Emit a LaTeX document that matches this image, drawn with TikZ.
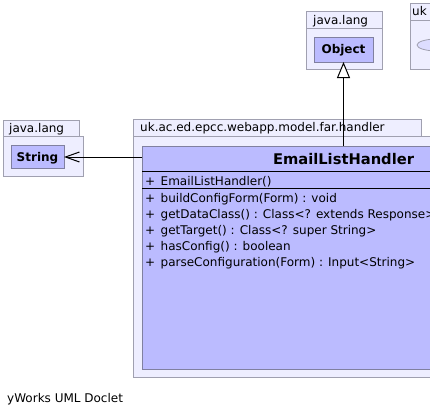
\documentclass[tikz,border=0pt]{standalone}
\usepackage{fontspec}
\setmainfont{DejaVu Sans}
\usetikzlibrary{arrows.meta}
\definecolor{pkgfill}{RGB}{238,238,255}
\definecolor{pkgline}{RGB}{160,160,176}
\definecolor{clsfill}{RGB}{187,187,255}
\definecolor{clsline}{RGB}{128,128,160}
\definecolor{ellfill}{RGB}{221,221,255}
\tikzset{
  pkg/.style={draw=pkgline, fill=pkgfill, line width=1pt},
  cls/.style={draw=clsline, fill=clsfill, line width=1pt, inner sep=0pt, outer sep=0pt},
  lbl/.style={anchor=base west, inner sep=0pt},
  sep/.style={draw=black, line width=1pt},
  inherit/.style={draw=black, line width=1pt, -{Triangle[open, length=16pt, width=13pt, fill=white]}},
  dep/.style={draw=black, line width=1pt, -{Straight Barb[length=14pt, width=10pt]}}
}
\begin{document}
\begin{tikzpicture}[x=1pt, y=-1pt, font=\fontsize{12}{14}\selectfont]
\useasboundingbox (0,0) rectangle (430,415);
\clip (0,0) rectangle (430,415);
\fill[white] (0,0) rectangle (430,415);

% java.lang (Object)
\draw[pkg] (306,28.5) rectangle (382,69);
\draw[pkg] (306,11.5) rectangle (382,28.5);
\node[lbl] (pkgobj) at (313,24) {java.lang};
\node[cls, minimum width=59pt, minimum height=25pt, text height=8.8pt, text depth=0pt] (obj) at (343.5,49.5) {\bfseries Object};

% uk (right, clipped)
\draw[pkg] (410.5,20) rectangle (470,69);
\draw[pkg] (410.5,3) rectangle (470,20);
\node[lbl] (pkguk) at (412,16) {uk};
\draw[draw=pkgline, fill=ellfill, line width=0.8pt] (437,45) ellipse [x radius=20, y radius=6];

% java.lang (String)
\draw[pkg] (3,136) rectangle (83,176);
\draw[pkg] (3,120) rectangle (79,136);
\node[lbl] (pkgstr) at (9,132) {java.lang};
\node[cls, minimum width=53pt, minimum height=23pt, text height=8.8pt, text depth=0pt] (str) at (37.5,157) {\bfseries String};

% main package
\draw[pkg] (133,136) rectangle (560,377);
\draw[pkg] (133,119) rectangle (421,136);
\node[lbl] (pkgmain) at (140,131) {uk.ac.ed.epcc.webapp.model.far.handler};

% class
\node[cls, anchor=north west, minimum width=403pt, minimum height=223pt] (elh) at (142,146) {};
\node[anchor=base, inner sep=0pt, font=\fontsize{14.7}{16}\selectfont\bfseries] (elhname) at (343.5,164.5) {EmailListHandler};
\draw[sep] (142,171) -- (545,171);
\draw[sep] (142,188) -- (545,188);
\node[lbl] (c1p) at (145,185) {+};
\node[lbl] (c1) at (160.5,185) {EmailListHandler()};
\node[lbl] (m1p) at (145,202) {+};
\node[lbl] (m1) at (160.5,202) {buildConfigForm(Form) : void};
\node[lbl] (m2p) at (145,218) {+};
\node[lbl] (m2) at (160.5,218) {getDataClass() : Class<? extends Response>};
\node[lbl] (m3p) at (145,234) {+};
\node[lbl] (m3) at (160.5,234) {getTarget() : Class<? super String>};
\node[lbl] (m4p) at (145,250) {+};
\node[lbl] (m4) at (160.5,250) {hasConfig() : boolean};
\node[lbl] (m5p) at (145,266) {+};
\node[lbl] (m5) at (160.5,266) {parseConfiguration(Form) : Input<String>};

% connectors
\draw[inherit] (elh.north) -- (obj.south);
\draw[dep] (str.east -| elh.west) -- (str.east);

% footer
\node[lbl] (footer) at (7,402) {yWorks UML Doclet};
\end{tikzpicture}
\end{document}
